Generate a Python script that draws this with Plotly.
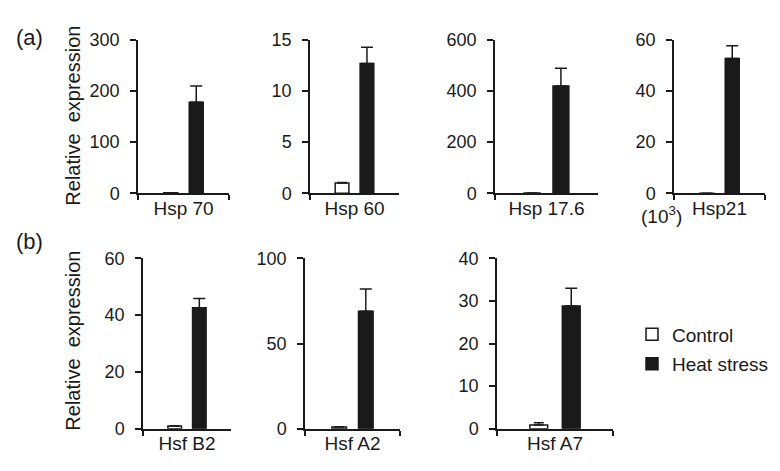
import plotly.graph_objects as go

W, H = 780, 471
FONT = "Liberation Sans, Arial, sans-serif"
INK = "#1a1a1a"

# (a) heat shock proteins
genes_a = ["Hsp 70", "Hsp 60", "Hsp 17.6", "Hsp21"]
control_a = [1.0, 1.0, 1.0, 0.001]
control_err_a = [0.0, 0.05, 0.0, 0.0]
heat_a = [178, 12.7, 420, 52.8]
heat_err_a = [32, 1.6, 69, 5.0]
ymax_a = [300, 15, 600, 60]
dtick_a = [100, 5, 200, 20]

# (b) heat shock factors
genes_b = ["Hsf B2", "Hsf A2", "Hsf A7"]
control_b = [1.0, 1.0, 0.9]
control_err_b = [0.1, 0.2, 0.5]
heat_b = [42.6, 69, 28.8]
heat_err_b = [3.3, 13, 4.2]
ymax_b = [60, 100, 40]
dtick_b = [20, 50, 10]

# panel boxes in pixels: x0, x1, ytop, ybottom
boxes = [
    (130, 221, 23, 183),
    (302, 391, 23, 183),
    (487, 590, 23, 183),
    (666, 757, 23, 183),
    (135, 223, 251, 429),
    (297, 392, 251, 429),
    (489, 605, 251, 429),
]

genes = genes_a + genes_b
control = control_a + control_b
control_err = control_err_a + control_err_b
heat = heat_a + heat_b
heat_err = heat_err_a + heat_err_b
ymax = ymax_a + ymax_b
dtick = dtick_a + dtick_b

fig = go.Figure()
layout = {}

for i, gene in enumerate(genes):
    n = "" if i == 0 else str(i + 1)
    x0, x1, yt, yb = boxes[i]
    fig.add_trace(go.Bar(
        x=[gene], y=[control[i]], name="Control",
        marker=dict(color="white", line=dict(color=INK, width=1.5)),
        error_y=dict(type="data", array=[control_err[i]], arrayminus=[0],
                     symmetric=False, color=INK, thickness=1.5, width=5),
        xaxis="x" + n, yaxis="y" + n,
        legendgroup="c", showlegend=(i == 0),
    ))
    fig.add_trace(go.Bar(
        x=[gene], y=[heat[i]], name="Heat stress",
        marker=dict(color=INK, line=dict(color=INK, width=1.5)),
        error_y=dict(type="data", array=[heat_err[i]], arrayminus=[0],
                     symmetric=False, color=INK, thickness=1.5, width=6),
        xaxis="x" + n, yaxis="y" + n,
        legendgroup="h", showlegend=(i == 0),
    ))
    layout["xaxis" + n] = dict(
        domain=[x0 / W, x1 / W], anchor="y" + n, type="category",
        range=[-0.5, 0.5], showline=True, linecolor=INK, linewidth=1.5,
        ticks="outside", tickson="boundaries", ticklen=5, tickwidth=1.5,
        tickcolor=INK, showgrid=False, zeroline=False, ticklabelstandoff=-3,
        tickfont=dict(size=19, color=INK), fixedrange=True,
    )
    layout["yaxis" + n] = dict(
        domain=[1 - yb / H, 1 - yt / H], anchor="x" + n,
        range=[0, ymax[i]], dtick=dtick[i], showline=True, linecolor=INK,
        linewidth=1.5, ticks="outside", ticklen=6, tickwidth=1.5,
        tickcolor=INK, showgrid=False, zeroline=False, ticklabelstandoff=7,
        tickfont=dict(size=18, color=INK), fixedrange=True,
    )

annotations = [
    dict(text="(a)", x=21 / W, y=1 - 20 / H, size=22),
    dict(text="(b)", x=21 / W, y=1 - 233 / H, size=22),
    dict(text="Relative  expression", x=65 / W, y=1 - 102 / H, textangle=-90, size=20),
    dict(text="Relative  expression", x=65 / W, y=1 - 337 / H, textangle=-90, size=20),
    dict(text="(10<sup>3</sup>)", x=653 / W, y=1 - 206 / H, size=19),
]
for a in annotations:
    size = a.pop("size")
    a.update(xref="paper", yref="paper", showarrow=False,
             xanchor="center", yanchor="middle",
             font=dict(size=size, family=FONT, color=INK))

fig.update_layout(
    **layout,
    annotations=annotations,
    barmode="group",
    bargap=0.44,
    bargroupgap=0.45,
    width=W,
    height=H,
    margin=dict(l=0, r=0, t=0, b=0),
    plot_bgcolor="white",
    paper_bgcolor="white",
    font=dict(family=FONT, color=INK, size=17),
    legend=dict(
        x=624 / W, y=1 - 346 / H, xanchor="left", yanchor="middle",
        font=dict(size=19), bgcolor="rgba(0,0,0,0)", tracegroupgap=2,
        itemwidth=30,
    ),
)

fig.write_html("out.html")
